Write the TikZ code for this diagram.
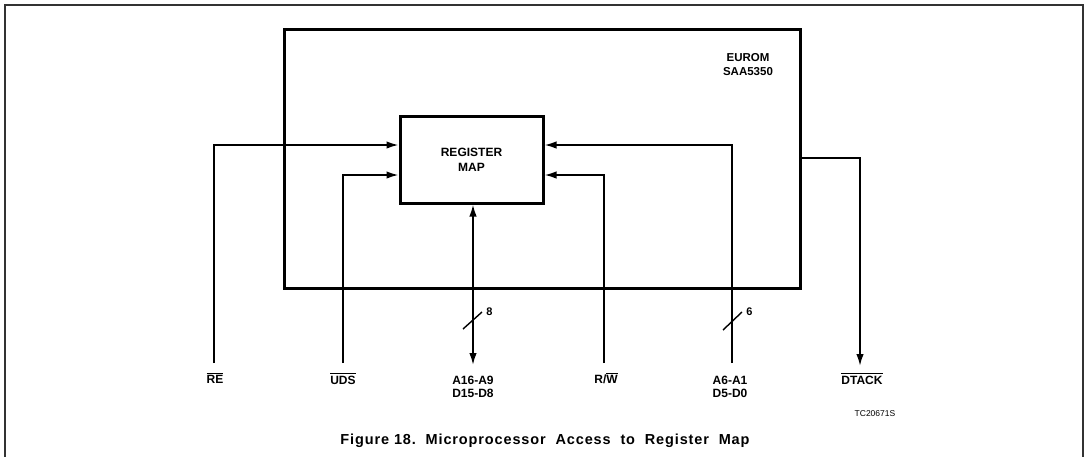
\documentclass[tikz,border=0pt]{standalone}
\usepackage{fontspec}
\setmainfont{Liberation Sans}
\usetikzlibrary{arrows.meta}
\newcommand{\ovl}[1]{\begingroup\setbox0\hbox{#1}\rlap{\raisebox{\dimexpr\ht0+1.6pt\relax}{\rule{\wd0}{0.9pt}}}\box0\endgroup}
\begin{document}
\begin{tikzpicture}[x=1pt,y=-1pt,
  lbl/.style={font=\bfseries\fontsize{12}{13}\selectfont, align=center, inner sep=0pt},
  sig/.style={line width=1.8pt},
  arr/.style={-{Latex[length=12pt,width=7.5pt]}},
  bus/.style={line width=1.4pt}]
\useasboundingbox (0,0) rectangle (1090,456);
\draw[line width=1.2pt, black!80] (5,470) -- (5,5) -- (1083,5) -- (1083,470);
% EUROM box
\node[draw, line width=3pt, minimum width=516pt, minimum height=259pt, inner sep=0pt] (eurom) at (542,158.5) {};
\node[lbl, font=\bfseries\fontsize{11.5}{14}\selectfont] (eulbl) at (748,65) {EUROM\\SAA5350};
% Register map
\node[draw, line width=3pt, minimum width=143pt, minimum height=87pt, align=center,
  font=\bfseries\fontsize{12}{15}\selectfont] (reg) at (471.5,159.5) {REGISTER\\MAP};
% signal labels
\node[lbl, anchor=north] (re) at (215,373) {\ovl{RE}};
\node[lbl, anchor=north] (uds) at (343,373) {\ovl{UDS}};
\node[lbl, anchor=north] (a16) at (473,376) {A16-A9\\D15-D8};
\node[lbl, anchor=north] (rw) at (606,373) {R/\ovl{W}};
\node[lbl, anchor=north] (a6) at (730,376) {A6-A1\\D5-D0};
\node[lbl, anchor=north] (dtack) at (862,373) {\ovl{DTACK}};
% line end coordinates
\coordinate (reB) at (214,363);
\coordinate (udsB) at (343,363);
\coordinate (a16B) at (473,365);
\coordinate (rwB) at (604,363);
\coordinate (a6B) at (732,363);
\coordinate (dtB) at (860,366);
% connectors
\draw[sig, arr] (reB) -- (214,145) -- (reg.west |- 0,145);
\draw[sig, arr] (udsB) -- (343,175) -- (reg.west |- 0,175);
\draw[sig, arr] (a6B) -- (732,145) -- (reg.east |- 0,145);
\draw[sig, arr] (rwB) -- (604,175) -- (reg.east |- 0,175);
\draw[sig, {Latex[length=12pt,width=7.5pt]}-{Latex[length=12pt,width=7.5pt]}] (reg.south -| a16B) -- (a16B);
\draw[sig, arr] (eurom.east |- 0,158) -- (860,158) -- (dtB);
% bus slashes
\draw[bus] (463,329) -- (482,312);
\node[font=\bfseries\fontsize{11}{12}\selectfont, inner sep=0pt] (n8) at (489.5,312) {8};
\draw[bus] (723,330) -- (742,312);
\node[font=\bfseries\fontsize{11}{12}\selectfont, inner sep=0pt] (n6) at (749.5,312) {6};
% id and caption
\node[font=\fontsize{8.5}{10}\selectfont, inner sep=0pt] (tc) at (875,414) {TC20671S};
\node[font=\bfseries\fontsize{14.5}{16}\selectfont\addfontfeatures{LetterSpace=6}, inner sep=0pt] (cap) at (545,441) {Figure 18.\ \ Microprocessor\ \ Access\ \ to\ \ Register\ \ Map};
\end{tikzpicture}
\end{document}
